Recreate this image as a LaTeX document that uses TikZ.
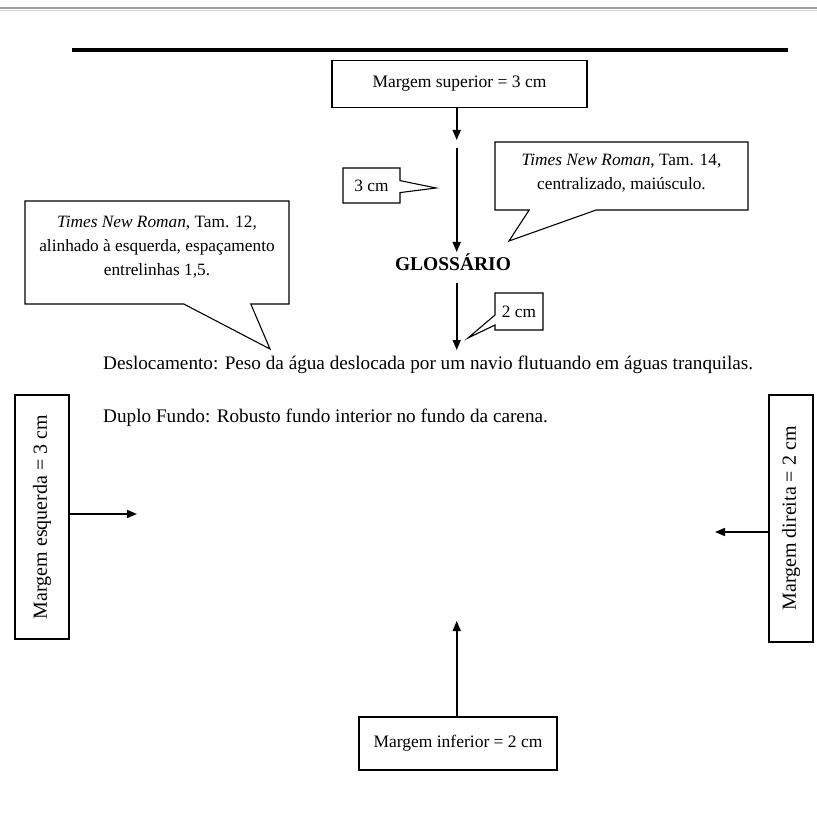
\documentclass[tikz,border=0pt]{standalone}
\usepackage{fontspec}
\setmainfont{Liberation Serif}
\usetikzlibrary{arrows.meta,shapes.callouts}
\begin{document}
\begin{tikzpicture}[x=1pt,y=-1pt,
  boxframe/.style={rectangle, draw, line width=1.2pt, fill=white, inner sep=0pt},
  boxtext/.style={font=\fontsize{17.5}{21}\selectfont},
  sidetext/.style={font=\fontsize{20}{23}\selectfont},
  note/.style={rectangle callout, draw, line width=1.1pt, fill=white, inner sep=0pt,
    align=center, font=\fontsize{17.3}{24}\selectfont},
  marker/.style={line width=1.6pt, -{Triangle[length=10pt,width=8pt]}},
  bodytext/.style={font=\fontsize{19.2}{23}\selectfont, anchor=west, inner sep=0pt}
]
\useasboundingbox (0,0) rectangle (817,813);

% page edge and header rule
\draw[gray!75, line width=2.5pt] (0,8) -- (817,8);
\draw[gray!35, line width=1.5pt] (0,10.5) -- (817,10.5);
\draw[line width=3.5pt] (72,50) -- (788,50);

% top margin
\node[boxframe, boxtext, minimum width=255, minimum height=47] (sup) at (459.5,84) {Margem superior = 3 cm};
\coordinate (supend) at (456.7,140);
\draw[marker] (supend |- sup.south) -- (supend);

\coordinate (gapstart) at (456.7,148);
\coordinate (gapend) at (456.7,252);
\draw[marker] (gapstart) -- (gapend);

\node[font=\bfseries\fontsize{19.5}{23}\selectfont, inner sep=0pt] (title) at (453,262) {GLOSSÁRIO};

\coordinate (afterstart) at (456.7,283);
\coordinate (afterend) at (456.7,350);
\draw[marker] (afterstart) -- (afterend);

% callouts
\node[note, minimum width=57, minimum height=35, callout absolute pointer={(436,188)},
  callout pointer width=12pt] (three) at (371.5,185.5) {3 cm};
\node[note, minimum width=264, minimum height=103, text depth=14pt,
  callout absolute pointer={(270,349)}, callout pointer width=67pt] (leftnote) at (157,252.5)
  {\textit{Times New Roman}, Tam. 12,\\ alinhado à esquerda, espaçamento\\ entrelinhas 1,5.};
\node[note, minimum width=253, minimum height=68, text depth=9pt,
  callout absolute pointer={(509,241)}, callout pointer width=67pt] (rightnote) at (621.5,176)
  {\textit{Times New Roman}, Tam. 14,\\ centralizado, maiúsculo.};
\node[note, minimum width=48, minimum height=37, callout absolute pointer={(468,338)},
  callout pointer width=10pt] (two) at (519,311.5) {2 cm};

% glossary entries
\node[bodytext] (desl) at (103,365) {Deslocamento: Peso da água deslocada por um navio flutuando em águas tranquilas.};
\node[bodytext] (duplo) at (103,418) {Duplo Fundo: Robusto fundo interior no fundo da carena.};

% side margins
\node[boxframe, sidetext, rotate=90, minimum width=244, minimum height=54] (esq) at (42,517) {Margem esquerda = 3 cm};
\coordinate (lefttip) at (137,514);
\draw[marker] (esq.south |- lefttip) -- (lefttip);

\node[boxframe, sidetext, rotate=90, minimum width=247, minimum height=44] (dir) at (791,518.5) {Margem direita = 2 cm};
\coordinate (righttip) at (715,532);
\draw[marker] (dir.north |- righttip) -- (righttip);

% bottom margin
\node[boxframe, boxtext, minimum width=198, minimum height=53] (inf) at (458,743.5) {Margem inferior = 2 cm};
\coordinate (uptip) at (456.7,621);
\draw[marker] (uptip |- inf.north) -- (uptip);
\end{tikzpicture}
\end{document}
